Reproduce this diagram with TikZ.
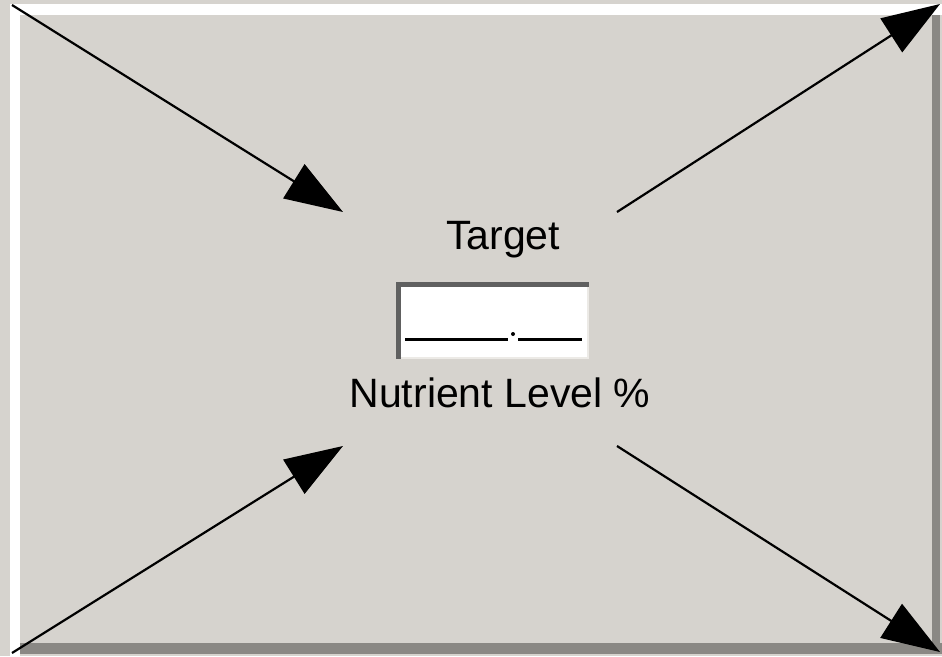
\documentclass[tikz,border=0pt]{standalone}
\usepackage{fontspec}
\setmainfont{Liberation Sans}
\usetikzlibrary{arrows.meta}
\definecolor{panel}{HTML}{D6D3CE}
\definecolor{shadow}{HTML}{8A8884}
\definecolor{fieldedge}{HTML}{606060}
\definecolor{fieldlight}{HTML}{ECEAE6}
\tikzset{
  flow/.style={line width=2.2pt, -{Triangle[length=58pt,width=40pt]}},
  caption/.style={font=\fontsize{41}{44}\selectfont, inner sep=0pt},
  digit/.style={line width=3pt}
}
\begin{document}
\begin{tikzpicture}[x=1pt,y=-1pt]
  % panel and its bevelled frame
  \fill[panel] (0,0) rectangle (942,656);
  \useasboundingbox (0,0) rectangle (942,656);
  \fill[white] (10,4) rectangle (942,15);
  \fill[white] (10,4) rectangle (20,656);
  \fill[shadow] (20,643) rectangle (942,654);
  \fill[shadow] (932,15) rectangle (940,654);

  % anchor points of the four arrows
  \coordinate (tlfrom) at (12,5);
  \coordinate (tlto)   at (343,212);
  \coordinate (blfrom) at (12,653);
  \coordinate (blto)   at (343,446);
  \coordinate (trfrom) at (617,212);
  \coordinate (trto)   at (940,4);
  \coordinate (brfrom) at (617,446);
  \coordinate (brto)   at (940,652);

  \draw[flow] (tlfrom) -- (tlto);
  \draw[flow] (blfrom) -- (blto);
  \draw[flow] (trfrom) -- (trto);
  \draw[flow] (brfrom) -- (brto);

  % labels
  \node[caption] (target) at (503,240) {Target};
  \node[caption] (level) at (500,393) {Nutrient Level \%};

  % entry field with sunken edge
  \node[draw=fieldlight, line width=2pt, fill=white, minimum width=191pt, minimum height=75pt, inner sep=0pt] (field) at (492.5,320.5) {};
  \fill[fieldedge] (field.north west) rectangle ([yshift=-5pt]field.north east);
  \fill[fieldedge] (field.north west) rectangle ([xshift=5pt]field.south west);
  \coordinate (d1a) at (405,339);
  \coordinate (d1b) at (508,339);
  \coordinate (d2a) at (518,339);
  \coordinate (d2b) at (582,339);
  \draw[digit] (d1a) -- (d1b);
  \draw[digit] (d2a) -- (d2b);
  \fill (513,334) circle (2pt);
\end{tikzpicture}
\end{document}
